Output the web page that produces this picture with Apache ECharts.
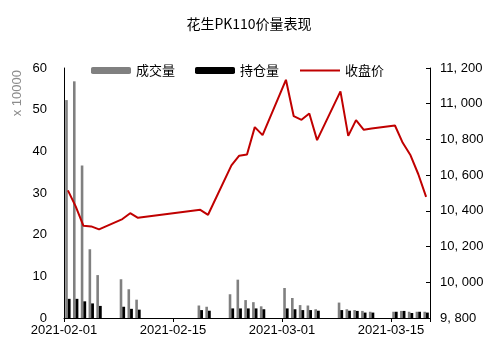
<!DOCTYPE html>
<html><head><meta charset="utf-8">
<script src="https://cdn.jsdelivr.net/npm/echarts@6/dist/echarts.min.js"></script>
<style>html,body{margin:0;padding:0;background:#fff}#c{width:498px;height:361px}</style>
</head><body><div id="c"></div>
<script>
const title = '花生PK110价量表现';
const seriesNames = ['成交量', '持仓量', '收盘价'];
const dates = ['2021-02-01','2021-02-02','2021-02-03','2021-02-04','2021-02-05',
  '2021-02-08','2021-02-09','2021-02-10','2021-02-18','2021-02-19',
  '2021-02-22','2021-02-23','2021-02-24','2021-02-25','2021-02-26',
  '2021-03-01','2021-03-02','2021-03-03','2021-03-04','2021-03-05',
  '2021-03-08','2021-03-09','2021-03-10','2021-03-11','2021-03-12',
  '2021-03-15','2021-03-16','2021-03-17','2021-03-18','2021-03-19'];
const volume = [52.3,56.8,36.6,16.5,10.3, 9.3,6.9,4.4,3.0,2.7,
  5.7,9.2,4.3,3.8,2.8, 7.2,4.8,3.1,3.0,2.1, 3.7,2.1,1.9,1.7,1.5, 1.5,1.7,1.5,1.5,1.5];
const openInterest = [4.6,4.6,4.0,3.5,2.9, 2.7,2.2,2.0,1.9,1.75,
  2.3,2.3,2.3,2.3,2.1, 2.3,2.1,1.9,1.9,1.75, 1.9,1.75,1.7,1.3,1.3, 1.5,1.7,1.2,1.5,1.3];
const closePrice = [10515,10425,10316,10313,10296, 10354,10387,10361,10406,10378,
  10655,10709,10716,10869,10824, 11134,10930,10910,10945,10796, 11069,10820,10908,10854,10861,
  10878,10781,10711,10605,10478];
const xTickDates = ['2021-02-01','2021-02-15','2021-03-01','2021-03-15'];
const axisStart = '2021-02-01', axisEnd = '2021-03-20';
const leftAxisUnit = 'x 10000';

const DAY = 86400000;
const t0 = Date.parse(axisStart);
const off = d => (Date.parse(d) - t0) / DAY;
const xmax = off(axisEnd);
const tickMap = {};
xTickDates.forEach(d => tickMap[off(d)] = d);
const pts = arr => arr.map((v, i) => [off(dates[i]) + 0.5, v]);

const F = 'Liberation Sans, Noto Sans CJK SC, sans-serif';
const chart = echarts.init(document.getElementById('c'));
chart.setOption({
  animation: false,
  textStyle: {fontFamily: F},
  title: {text: title, left: 'center', top: 12,
    textStyle: {fontSize: 14, fontWeight: 'normal', color: '#000', fontFamily: 'Noto Sans CJK SC, sans-serif'}},
  legend: {left: 86, top: 59, itemWidth: 40, itemHeight: 7, itemGap: 20,
    textStyle: {fontSize: 13, color: '#000', fontFamily: 'Noto Sans CJK SC'},
    data: [seriesNames[0], seriesNames[1], {name: seriesNames[2], itemStyle: {opacity: 0}}]},
  grid: {left: 64, right: 68, top: 68, bottom: 43},
  graphic: [{type: 'text', left: 11, top: 70, rotation: Math.PI / 2,
    style: {text: leftAxisUnit, fontSize: 13, fill: '#8c8c8c', fontFamily: F}}],
  xAxis: {type: 'value', min: 0, max: xmax, interval: 14,
    axisLine: {show: true, lineStyle: {color: '#000', width: 1}},
    axisTick: {show: true, length: 4, lineStyle: {color: '#000'}},
    splitLine: {show: false},
    axisLabel: {fontSize: 13, color: '#000', margin: 6,
      formatter: v => tickMap[v] || ''}},
  yAxis: [
    {type: 'value', min: 0, max: 60, interval: 10,
      axisLine: {show: true, lineStyle: {color: '#000'}},
      axisTick: {show: false}, splitLine: {show: false},
      axisLabel: {fontSize: 13, color: '#000', margin: 17}},
    {type: 'value', min: 9800, max: 11200, interval: 200, position: 'right',
      axisLine: {show: true, lineStyle: {color: '#000'}},
      axisTick: {show: true, inside: true, length: 4, lineStyle: {color: '#000'}},
      splitLine: {show: false},
      axisLabel: {fontSize: 13, color: '#000', margin: 10,
        formatter: v => { const s = String(v); return s.slice(0, s.length - 3) + ', ' + s.slice(-3); }}}
  ],
  series: [
    {name: seriesNames[0], type: 'bar', data: pts(volume), barWidth: 2.6, barGap: '0%',
      itemStyle: {color: '#808080'}},
    {name: seriesNames[1], type: 'bar', data: pts(openInterest), barWidth: 2.8, barGap: '0%',
      itemStyle: {color: '#000'}},
    {name: seriesNames[2], type: 'line', yAxisIndex: 1, data: pts(closePrice), symbol: 'none',
      lineStyle: {color: '#c00000', width: 2}, itemStyle: {color: '#c00000'}}
  ]
});
</script></body></html>
